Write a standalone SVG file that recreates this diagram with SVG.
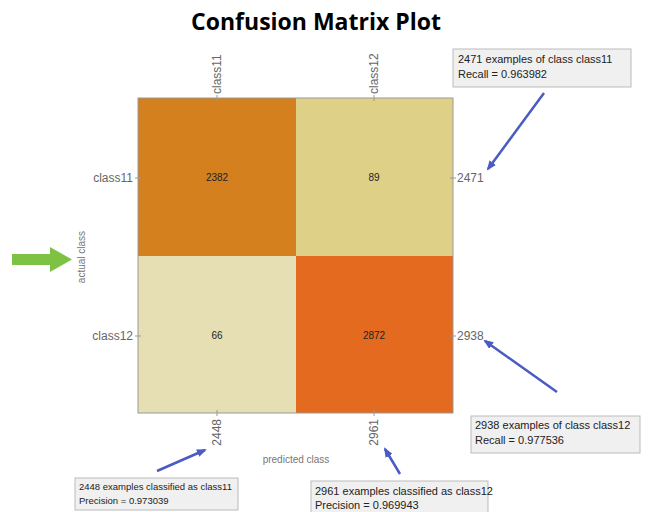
<svg xmlns="http://www.w3.org/2000/svg" width="649" height="512" viewBox="0 0 649 512">
<style>
.title{font-family:"Open Sans","Liberation Sans",sans-serif;font-weight:bold;font-size:23px;fill:#000}
.tick{font-family:"Liberation Sans",Arial,sans-serif;font-size:12px;fill:#666}
.axis{font-family:"Liberation Sans",Arial,sans-serif;font-size:10px;fill:#777}
.cell{font-family:"Liberation Sans",Arial,sans-serif;font-size:10px;fill:#222;text-anchor:middle}
.box{fill:#f0f0f0;stroke:#bbb;stroke-width:1}
.btxt{font-family:"Liberation Sans",Arial,sans-serif;font-size:11px;fill:#222}
.btxs{font-family:"Liberation Sans",Arial,sans-serif;font-size:9.5px;fill:#222}
.arr{stroke:#4a5bc4;stroke-width:2.5;fill:none;marker-end:url(#ah)}
.tk{stroke:#999;stroke-width:1}
</style>
<defs>
<marker id="ah" markerWidth="10" markerHeight="8" refX="8" refY="4" orient="auto" markerUnits="userSpaceOnUse">
<path d="M0,0 L10,4 L0,8 Z" fill="#4a5bc4"/>
</marker>
</defs>
<rect width="649" height="512" fill="#fff"/>
<text class="title" x="316" y="30" text-anchor="middle">Confusion Matrix Plot</text>
<g id="matrix">
<rect x="138" y="98" width="158" height="158" fill="#d5801f"/>
<rect x="296" y="98" width="157" height="158" fill="#dfd088"/>
<rect x="138" y="256" width="158" height="157" fill="#e6dfb3"/>
<rect x="296" y="256" width="157" height="157" fill="#e46a1f"/>
<rect x="138" y="98" width="315" height="315" fill="none" stroke="#999" stroke-width="1"/>
<text class="cell" x="217" y="181">2382</text>
<text class="cell" x="374" y="181">89</text>
<text class="cell" x="217" y="339">66</text>
<text class="cell" x="374" y="339">2872</text>
<line class="tk" x1="217" y1="95" x2="217" y2="101"/>
<line class="tk" x1="374" y1="95" x2="374" y2="101"/>
<line class="tk" x1="217" y1="410" x2="217" y2="416"/>
<line class="tk" x1="374" y1="410" x2="374" y2="416"/>
<line class="tk" x1="135" y1="178" x2="141" y2="178"/>
<line class="tk" x1="135" y1="336" x2="141" y2="336"/>
<line class="tk" x1="450" y1="178" x2="456" y2="178"/>
<line class="tk" x1="450" y1="336" x2="456" y2="336"/>
</g>
<g id="labels">
<text class="tick" x="133" y="182" text-anchor="end">class11</text>
<text class="tick" x="133" y="340" text-anchor="end">class12</text>
<text class="tick" x="457" y="182">2471</text>
<text class="tick" x="457" y="340">2938</text>
<text class="tick" transform="translate(221,94) rotate(-90)">class11</text>
<text class="tick" transform="translate(378,94) rotate(-90)">class12</text>
<text class="tick" transform="translate(221,419) rotate(-90)" text-anchor="end">2448</text>
<text class="tick" transform="translate(378,419) rotate(-90)" text-anchor="end">2961</text>
<text class="axis" transform="translate(85,257) rotate(-90)" text-anchor="middle">actual class</text>
<text class="axis" x="296" y="463" text-anchor="middle">predicted class</text>
</g>
<g id="green-arrow">
<path d="M12,254 L50,254 L50,247 L72,259.5 L50,272 L50,265 L12,265 Z" fill="#7dc242"/>
</g>
<g id="box-recall11">
<rect class="box" x="453" y="49" width="178" height="38"/>
<text class="btxt" x="458" y="63">2471 examples of class class11</text>
<text class="btxt" x="458" y="78">Recall = 0.963982</text>
</g>
<g id="box-recall12">
<rect class="box" x="471" y="416" width="169" height="37"/>
<text class="btxt" x="475" y="429">2938 examples of class class12</text>
<text class="btxt" x="475" y="444">Recall = 0.977536</text>
</g>
<g id="box-prec11">
<rect class="box" x="75" y="478" width="163" height="32"/>
<text class="btxs" x="79" y="490">2448 examples classified as class11</text>
<text class="btxs" x="79" y="504">Precision = 0.973039</text>
</g>
<g id="box-prec12">
<rect class="box" x="311" y="481" width="177" height="32"/>
<text class="btxt" x="315" y="495">2961 examples classified as class12</text>
<text class="btxt" x="315" y="509">Precision = 0.969943</text>
</g>
<g id="connectors">
<line class="arr" x1="544" y1="93" x2="488" y2="169"/>
<line class="arr" x1="557" y1="392" x2="485" y2="341"/>
<line class="arr" x1="157" y1="471" x2="205" y2="450"/>
<line class="arr" x1="400" y1="474" x2="385" y2="449"/>
</g>
</svg>
